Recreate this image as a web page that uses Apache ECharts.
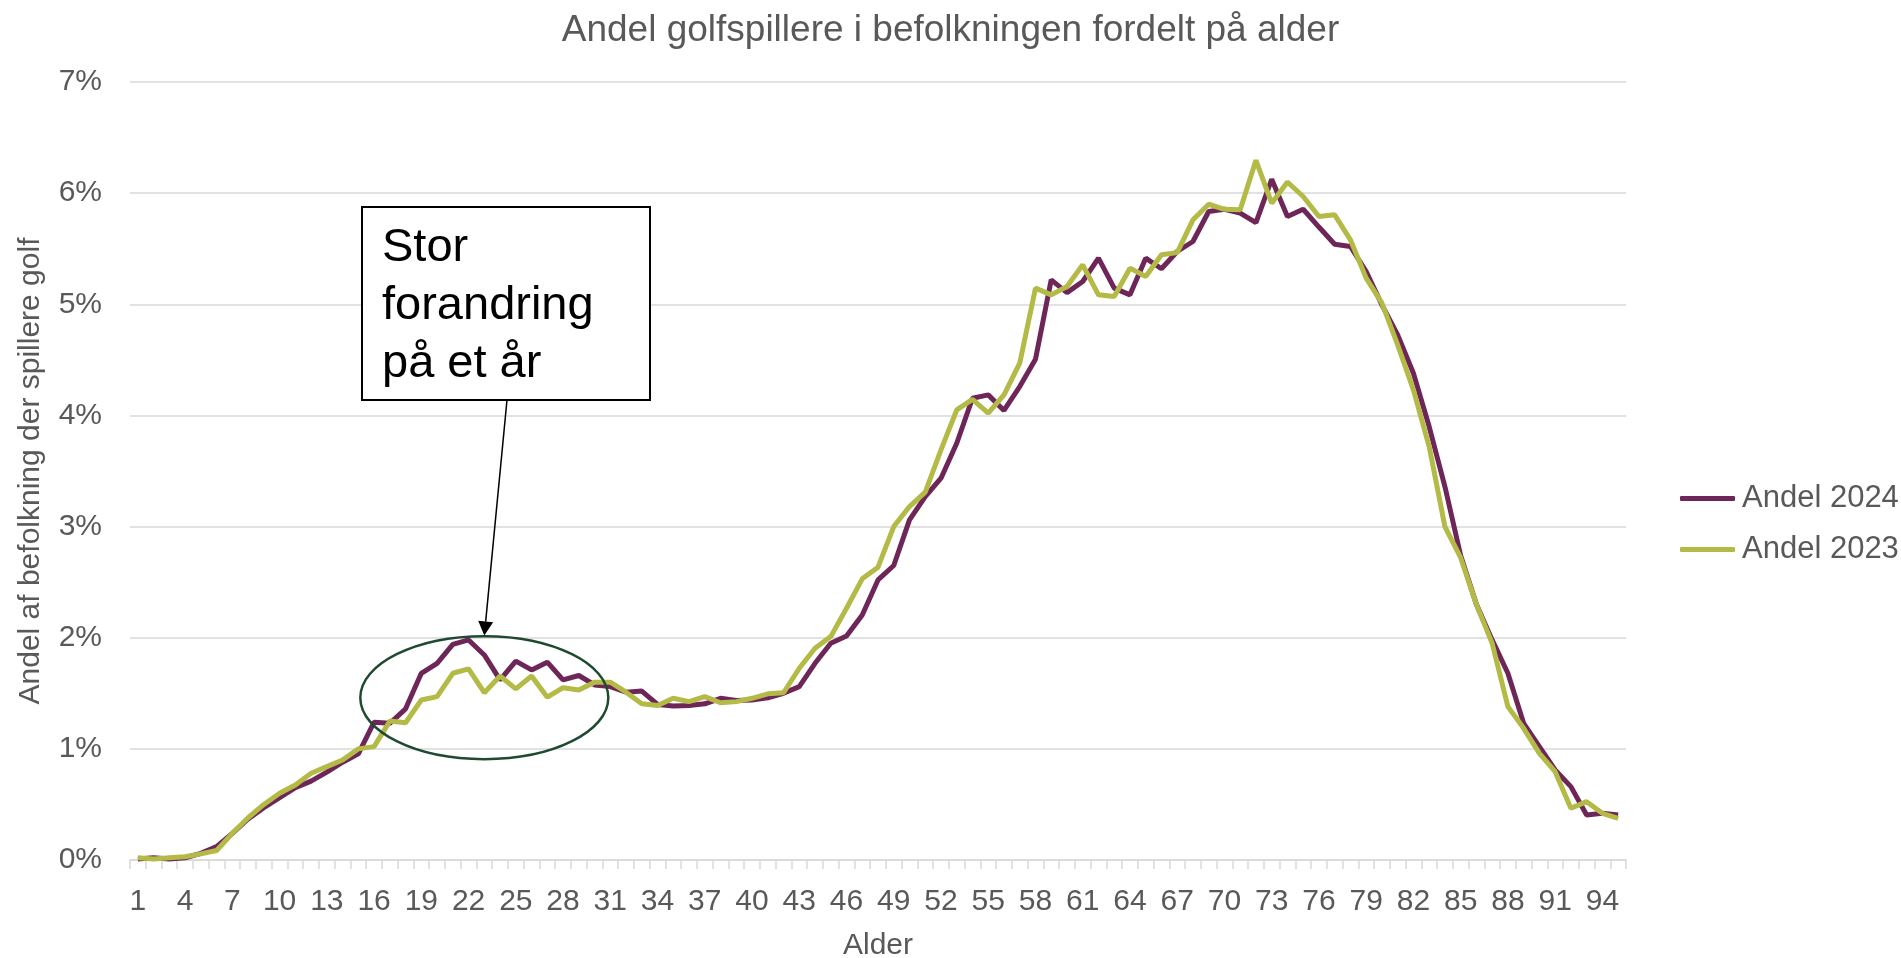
<!DOCTYPE html>
<html>
<head>
<meta charset="utf-8">
<title>Andel golfspillere</title>
<script src="https://cdn.jsdelivr.net/npm/echarts@6/dist/echarts.min.js"></script>
<style>
  html, body { margin: 0; padding: 0; background: #fff; }
  #main { width: 1901px; height: 958px; }
</style>
</head>
<body>
<div id="main"></div>
<script>
// alder 1..95
var ages = [];
for (var a = 1; a <= 95; a++) ages.push(String(a));

// andel i procent
var andel2024 = [
  0.01, 0.02, 0.01, 0.02, 0.06, 0.12, 0.24, 0.37, 0.47, 0.56,
  0.65, 0.71, 0.79, 0.88, 0.955, 1.24, 1.23, 1.36, 1.68, 1.77,
  1.94, 1.98, 1.845, 1.62, 1.79, 1.71, 1.78, 1.62, 1.66, 1.575,
  1.56, 1.51, 1.52, 1.40, 1.385, 1.39, 1.405, 1.455, 1.435, 1.44,
  1.46, 1.50, 1.56, 1.77, 1.95, 2.015, 2.205, 2.52, 2.65, 3.06,
  3.27, 3.435, 3.75, 4.155, 4.185, 4.045, 4.26, 4.505, 5.22, 5.105,
  5.205, 5.415, 5.145, 5.085, 5.415, 5.32, 5.475, 5.565, 5.835, 5.855,
  5.82, 5.735, 6.125, 5.79, 5.855, 5.695, 5.54, 5.52, 5.295, 4.995,
  4.725, 4.38, 3.90, 3.36, 2.74, 2.30, 1.98, 1.68, 1.23, 1.02,
  0.81, 0.66, 0.405, 0.42, 0.405
];
var andel2023 = [
  0.02, 0.01, 0.02, 0.03, 0.055, 0.085, 0.24, 0.38, 0.50, 0.60,
  0.675, 0.78, 0.84, 0.90, 1.00, 1.02, 1.25, 1.235, 1.44, 1.47,
  1.68, 1.72, 1.505, 1.655, 1.54, 1.655, 1.465, 1.55, 1.53, 1.60,
  1.60, 1.51, 1.405, 1.39, 1.455, 1.425, 1.47, 1.415, 1.425, 1.455,
  1.495, 1.505, 1.725, 1.905, 2.01, 2.265, 2.53, 2.635, 3.00, 3.18,
  3.31, 3.69, 4.05, 4.145, 4.02, 4.185, 4.47, 5.145, 5.085, 5.16,
  5.355, 5.085, 5.07, 5.325, 5.25, 5.445, 5.465, 5.76, 5.90, 5.855,
  5.85, 6.295, 5.91, 6.10, 5.97, 5.79, 5.805, 5.58, 5.235, 5.01,
  4.635, 4.23, 3.72, 3.00, 2.72, 2.30, 1.95, 1.38, 1.185, 0.96,
  0.795, 0.465, 0.525, 0.42, 0.375
];

var FONT = "'Liberation Sans', Arial, sans-serif";
var GREY = '#595959';

var myChart = echarts.init(document.getElementById('main'));

var option = {
  backgroundColor: '#fff',
  animation: false,
  title: {
    text: 'Andel golfspillere i befolkningen fordelt på alder',
    left: 'center',
    top: 7,
    textStyle: { fontFamily: FONT, fontSize: 37, fontWeight: 'normal', color: GREY }
  },
  legend: {
    orient: 'vertical',
    left: 1675,
    top: 478,
    itemWidth: 55,
    itemHeight: 5,
    itemGap: 20,
    icon: 'roundRect',
    textStyle: { fontFamily: FONT, fontSize: 31, color: GREY, padding: [0, 0, 0, 2] },
    data: ['Andel 2024', 'Andel 2023']
  },
  grid: { left: 130, right: 275, top: 82, bottom: 98, containLabel: false, outerBoundsMode: 'none' },
  xAxis: {
    type: 'category',
    data: ages,
    boundaryGap: true,
    name: 'Alder',
    nameLocation: 'middle',
    nameGap: 71,
    nameTextStyle: { fontFamily: FONT, fontSize: 30, color: GREY },
    axisLine: { lineStyle: { color: '#d9d9d9', width: 1.5 } },
    axisTick: { show: true, interval: 0, length: 9, lineStyle: { color: '#d9d9d9', width: 1.5 } },
    axisLabel: { interval: 2, margin: 27, fontFamily: FONT, fontSize: 30, color: GREY },
    splitLine: { show: false }
  },
  yAxis: {
    type: 'value',
    min: 0,
    max: 7,
    interval: 1,
    name: 'Andel af befolkning der spillere golf',
    nameLocation: 'middle',
    nameGap: 84,
    nameTextStyle: { fontFamily: FONT, fontSize: 30, color: GREY },
    axisLine: { show: false },
    axisTick: { show: false },
    axisLabel: { margin: 28, fontFamily: FONT, fontSize: 30, color: GREY, formatter: '{value}%' },
    splitLine: { lineStyle: { color: '#d9d9d9', width: 1.5 } }
  },
  series: [
    {
      name: 'Andel 2024',
      type: 'line',
      data: andel2024,
      symbol: 'none',
      color: '#6e2558',
      lineStyle: { width: 5, color: '#6e2558' }
    },
    {
      name: 'Andel 2023',
      type: 'line',
      data: andel2023,
      symbol: 'none',
      color: '#b3ba45',
      lineStyle: { width: 5, color: '#b3ba45' }
    }
  ]
};
myChart.setOption(option);

// annotation: ellipse + pil placeres ud fra aksernes skala
var tip = myChart.convertToPixel({ xAxisIndex: 0, yAxisIndex: 0 }, ['23', 2.02]);
var mid = myChart.convertToPixel({ xAxisIndex: 0, yAxisIndex: 0 }, ['23', 1.46]);
var boxX = 362, boxY = 207, boxW = 288, boxH = 193;
var start = [507, boxY + boxH];
var dx = tip[0] - start[0], dy = tip[1] - start[1];
var len = Math.sqrt(dx * dx + dy * dy);
var ux = dx / len, uy = dy / len;
var headLen = 14, headHalf = 7.5;
var base = [tip[0] - ux * headLen, tip[1] - uy * headLen];

myChart.setOption({
  graphic: [
    {
      type: 'ellipse',
      shape: { cx: mid[0], cy: mid[1], rx: 124, ry: 61.5 },
      style: { fill: 'none', stroke: '#1f4a30', lineWidth: 2.5 },
      z: 100
    },
    {
      type: 'line',
      shape: { x1: start[0], y1: start[1], x2: base[0], y2: base[1] },
      style: { stroke: '#000', lineWidth: 1.5 },
      z: 100
    },
    {
      type: 'polygon',
      shape: { points: [tip, [base[0] - uy * headHalf, base[1] + ux * headHalf], [base[0] + uy * headHalf, base[1] - ux * headHalf]] },
      style: { fill: '#000' },
      z: 100
    },
    {
      type: 'rect',
      shape: { x: boxX, y: boxY, width: boxW, height: boxH },
      style: { fill: '#fff', stroke: '#000', lineWidth: 2 },
      z: 100
    },
    {
      type: 'text',
      x: 382,
      y: 219,
      style: {
        text: 'Stor\nforandring\npå et år',
        font: '47px ' + FONT,
        lineHeight: 58,
        fill: '#000'
      },
      z: 101
    }
  ]
});
</script>
</body>
</html>
